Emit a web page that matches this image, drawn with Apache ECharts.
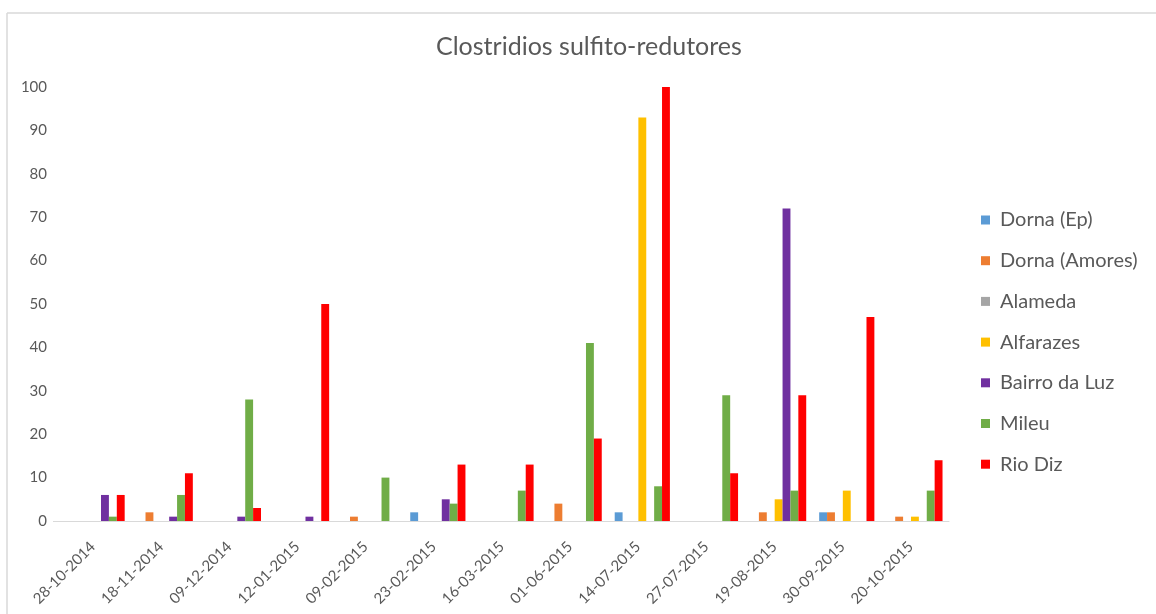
<!DOCTYPE html>
<html>
<head>
<meta charset="utf-8">
<script src="https://cdn.jsdelivr.net/npm/echarts@6/dist/echarts.min.js"></script>
<style>
html,body{margin:0;padding:0;background:#fff;}
#chart{width:1156px;height:614px;}
</style>
</head>
<body>
<div id="chart"></div>
<script>
const categories = ['28-10-2014','18-11-2014','09-12-2014','12-01-2015','09-02-2015','23-02-2015','16-03-2015','01-06-2015','14-07-2015','27-07-2015','19-08-2015','30-09-2015','20-10-2015'];
const seriesNames = ['Dorna (Ep)','Dorna (Amores)','Alameda','Alfarazes','Bairro da Luz','Mileu','Rio Diz'];
const dornaEp      = [0,0,0,0,0,2,0,0,2,0,0,2,0];
const dornaAmores  = [0,2,0,0,1,0,0,4,0,0,2,2,1];
const alameda      = [0,0,0,0,0,0,0,0,0,0,0,0,0];
const alfarazes    = [0,0,0,0,0,0,0,0,93,0,5,7,1];
const bairroDaLuz  = [6,1,1,1,0,5,0,0,0,0,72,0,0];
const mileu        = [1,6,28,0,10,4,7,41,8,29,7,0,7];
const rioDiz       = [6,11,3,50,0,13,13,19,100,11,29,47,14];
const yTicks = [0,10,20,30,40,50,60,70,80,90,100];
const colors = ['#5B9BD5','#ED7D31','#A5A5A5','#FFC000','#7030A0','#70AD47','#FF0000'];
const allValues = [dornaEp,dornaAmores,alameda,alfarazes,bairroDaLuz,mileu,rioDiz];

const txt = '#595959';
const font = 'Lato';
const chart = echarts.init(document.getElementById('chart'));
chart.setOption({
  animation:false,
  color: colors,
  title:{
    text:'Clostridios sulfito-redutores',
    left:436, top:34, padding:0,
    textStyle:{color:txt,fontFamily:font,fontSize:25,fontWeight:'normal'}
  },
  legend:{
    orient:'vertical', left:981, top:210, padding:0,
    itemWidth:9, itemHeight:9, itemGap:20.7,
    icon:'rect',
    textStyle:{color:txt,fontFamily:font,fontSize:20,lineHeight:20,padding:[0,0,0,5]},
    data:seriesNames
  },
  grid:{left:63,right:207,top:87,bottom:93,containLabel:false},
  xAxis:{
    type:'category', data:categories,
    axisLine:{lineStyle:{color:'#D9D9D9',width:1}},
    axisTick:{show:false},
    axisLabel:{rotate:45,color:txt,fontFamily:font,fontSize:15,margin:19,interval:0,padding:[0,6,0,0]}
  },
  yAxis:{
    type:'value', min:0, max:100, interval:10,
    splitLine:{show:false},
    axisLine:{show:false}, axisTick:{show:false},
    axisLabel:{color:txt,fontFamily:font,fontSize:15,margin:16,
      formatter:v=>yTicks.includes(v)?String(v):''}
  },
  graphic:[
    {type:'line',shape:{x1:7,y1:13,x2:1156,y2:13},style:{stroke:'#D9D9D9',lineWidth:1.5},silent:true},
    {type:'line',shape:{x1:7,y1:13,x2:7,y2:614},style:{stroke:'#D9D9D9',lineWidth:1.5},silent:true},
    {type:'line',shape:{x1:53,y1:521.5,x2:63,y2:521.5},style:{stroke:'#D9D9D9',lineWidth:1},silent:true}
  ],
  series: seriesNames.map((n,i)=>({
    name:n, type:'bar', data:allValues[i],
    barGap:'0%', barCategoryGap:'19%',
    itemStyle:{color:colors[i]}
  }))
});
</script>
</body>
</html>
